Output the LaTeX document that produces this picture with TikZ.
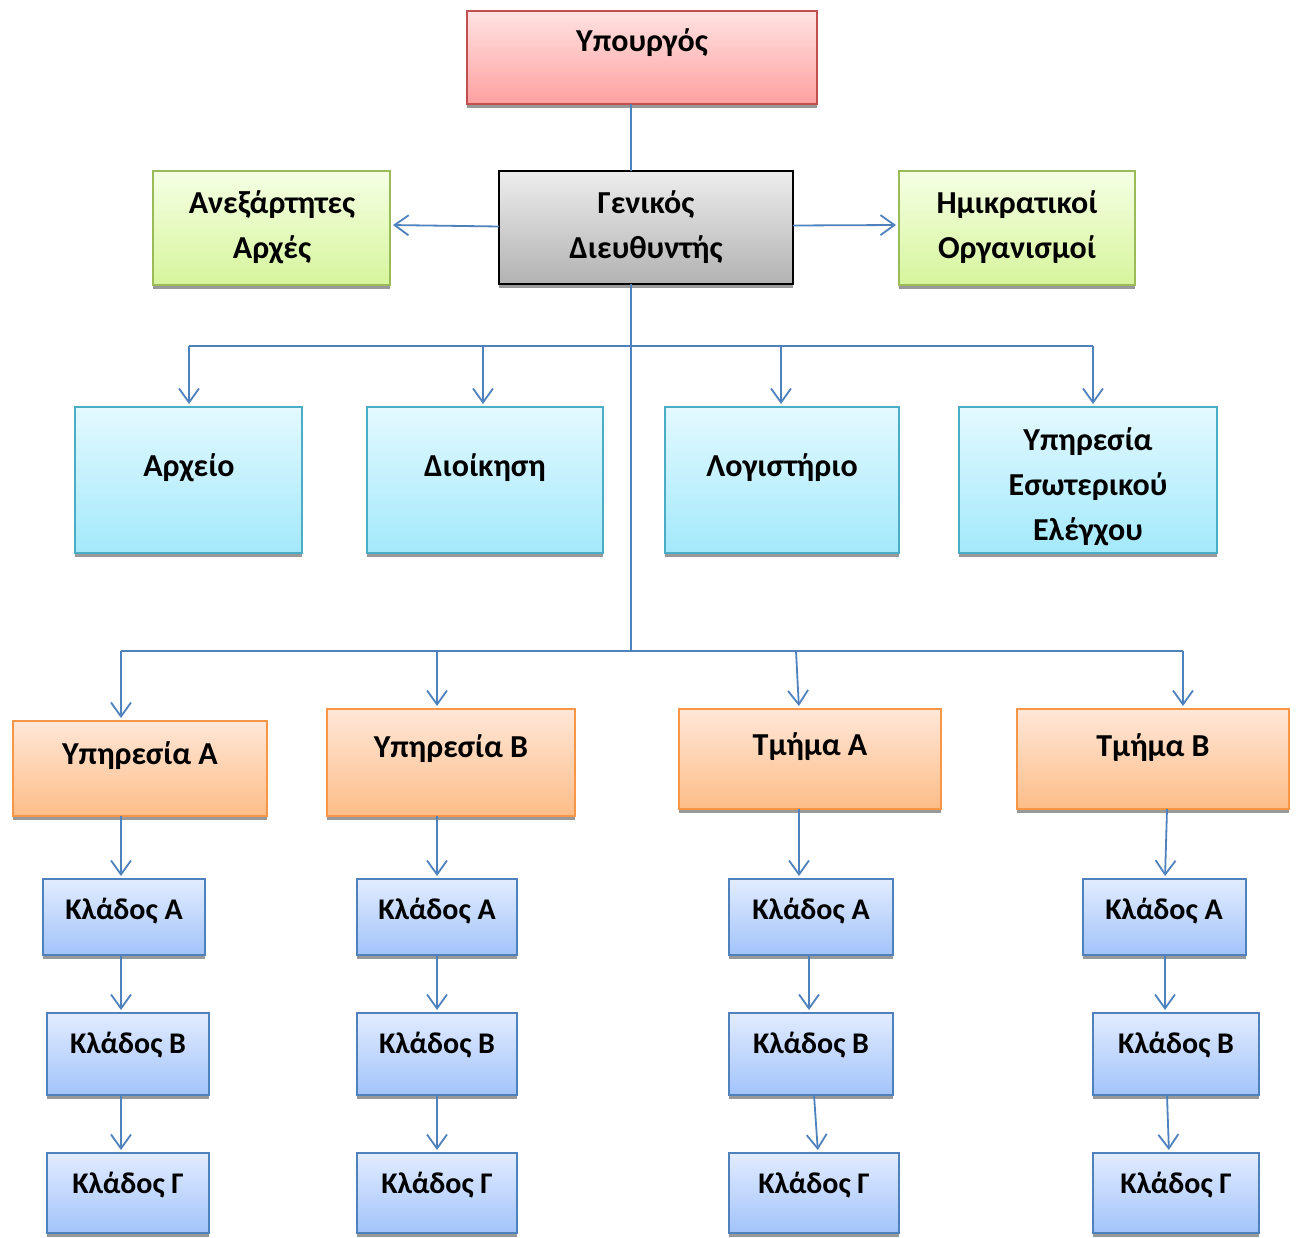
\documentclass[tikz,border=0pt]{standalone}
\usepackage{fontspec}
\setmainfont{Carlito}
\usetikzlibrary{arrows.meta,calc}
\definecolor{lnc}{HTML}{4F81BD}
\definecolor{redB}{HTML}{C0504D}\definecolor{redT}{HTML}{FFE2E2}\definecolor{redM}{HTML}{FFA0A0}
\definecolor{grB}{HTML}{000000}\definecolor{grT}{HTML}{EDEDED}\definecolor{grM}{HTML}{B2B2B2}
\definecolor{gnB}{HTML}{9BBB59}\definecolor{gnT}{HTML}{F5FFE4}\definecolor{gnM}{HTML}{D6F59C}
\definecolor{cyB}{HTML}{4BACC6}\definecolor{cyT}{HTML}{E3F9FF}\definecolor{cyM}{HTML}{A3E9FB}
\definecolor{orB}{HTML}{F79646}\definecolor{orT}{HTML}{FFE7D8}\definecolor{orM}{HTML}{FDBD88}
\definecolor{blB}{HTML}{4F81BD}\definecolor{blT}{HTML}{E2ECFF}\definecolor{blM}{HTML}{A2C3FA}
\tikzset{
  x=1pt,y=-1pt,
  box/.style={draw, line width=1.8pt, inner sep=0pt, outer sep=0pt},
  redbox/.style={box, draw=redB, top color=redT, bottom color=redM},
  graybox/.style={box, draw=grB, top color=grT, bottom color=grM},
  greenbox/.style={box, draw=gnB, top color=gnT, bottom color=gnM},
  cyanbox/.style={box, draw=cyB, top color=cyT, bottom color=cyM},
  orangebox/.style={box, draw=orB, top color=orT, bottom color=orM},
  bluebox/.style={box, draw=blB, top color=blT, bottom color=blM},
  shd/.style={fill=black!40},
  conn/.style={draw=lnc, line width=1.8pt},
  arr/.style={conn, -{Straight Barb[length=14pt,width=20pt,line width=1.8pt]}, shorten >=3pt},
  lbl/.style={anchor=base, inner sep=0pt, font=\fontsize{32}{45}\selectfont\bfseries},
  klbl/.style={lbl, font=\fontsize{30}{45}\selectfont\bfseries},
}
\newcommand\bx[6]{%
  \fill[shd] (#3,#6+1) rectangle (#5,#6+4);
  \node[#1, minimum width={#5-#3}, minimum height={#6-#4}] (#2) at ({(#3+#5)/2},{(#4+#6)/2}) {};
}
\newcommand\tx[5][lbl]{\node[#1] (#2) at (#3,#4) {\begin{tabular}[t]{@{}c@{}}#5\end{tabular}};}
\begin{document}
\begin{tikzpicture}
\useasboundingbox (0,0) rectangle (1299,1238);
% boxes
\bx{redbox}{upo}{467}{11}{817}{104}
\bx{graybox}{gd}{499}{171}{793}{284}
\bx{greenbox}{anex}{153}{171}{390}{285}
\bx{greenbox}{imik}{899}{171}{1135}{285}
\bx{cyanbox}{arx}{75}{407}{302}{553}
\bx{cyanbox}{dioik}{367}{407}{603}{553}
\bx{cyanbox}{logist}{665}{407}{899}{553}
\bx{cyanbox}{ype}{959}{407}{1217}{553}
\bx{orangebox}{ypa}{13}{721}{267}{816}
\bx{orangebox}{ypb}{327}{709}{575}{816}
\bx{orangebox}{tma}{679}{709}{941}{809}
\bx{orangebox}{tmb}{1017}{709}{1289}{809}
\bx{bluebox}{k1a}{43}{879}{205}{955}
\bx{bluebox}{k1b}{47}{1013}{209}{1095}
\bx{bluebox}{k1c}{47}{1153}{209}{1233}
\bx{bluebox}{k2a}{357}{879}{517}{955}
\bx{bluebox}{k2b}{357}{1013}{517}{1095}
\bx{bluebox}{k2c}{357}{1153}{517}{1233}
\bx{bluebox}{k3a}{729}{879}{893}{955}
\bx{bluebox}{k3b}{729}{1013}{893}{1095}
\bx{bluebox}{k3c}{729}{1153}{899}{1233}
\bx{bluebox}{k4a}{1083}{879}{1246}{955}
\bx{bluebox}{k4b}{1093}{1013}{1259}{1095}
\bx{bluebox}{k4c}{1093}{1153}{1259}{1233}
% texts
\tx{upo-t}{642}{52}{Υπουργός}
\tx{gd-t}{646}{214}{Γενικός\\Διευθυντής}
\tx{anex-t}{272}{214}{Ανεξάρτητες\\Αρχές}
\tx{imik-t}{1017}{214}{Ημικρατικοί\\Οργανισμοί}
\tx{arx-t}{189}{477}{Αρχείο}
\tx{dioik-t}{485}{477}{Διοίκηση}
\tx{logist-t}{782}{477}{Λογιστήριο}
\tx{ype-t}{1088}{450}{Υπηρεσία\\Εσωτερικού\\Ελέγχου}
\tx{ypa-t}{140}{764}{Υπηρεσία Α}
\tx{ypb-t}{451}{757}{Υπηρεσία Β}
\tx{tma-t}{810}{755}{Τμήμα Α}
\tx{tmb-t}{1153}{756}{Τμήμα Β}
\tx[klbl]{k1a-t}{124}{919}{Κλάδος Α}
\tx[klbl]{k1b-t}{128}{1053}{Κλάδος Β}
\tx[klbl]{k1c-t}{128}{1193}{Κλάδος Γ}
\tx[klbl]{k2a-t}{437}{919}{Κλάδος Α}
\tx[klbl]{k2b-t}{437}{1053}{Κλάδος Β}
\tx[klbl]{k2c-t}{437}{1193}{Κλάδος Γ}
\tx[klbl]{k3a-t}{811}{919}{Κλάδος Α}
\tx[klbl]{k3b-t}{811}{1053}{Κλάδος Β}
\tx[klbl]{k3c-t}{814}{1193}{Κλάδος Γ}
\tx[klbl]{k4a-t}{1164}{919}{Κλάδος Α}
\tx[klbl]{k4b-t}{1176}{1053}{Κλάδος Β}
\tx[klbl]{k4c-t}{1176}{1193}{Κλάδος Γ}
% junction coordinates
\coordinate (t1) at (631,346);
\coordinate (t2) at (631,651);
\coordinate (h1l) at (189,346);
\coordinate (h1b) at (483,346);
\coordinate (h1c) at (781,346);
\coordinate (h1r) at (1093,346);
\coordinate (h2l) at (121,651);
\coordinate (h2b) at (437,651);
\coordinate (h2c) at (796,651);
\coordinate (h2r) at (1183,651);
% connectors
\draw[conn] (upo.south -| t1) -- (gd.north -| t1);
\draw[arr] (gd.west) ++(0,-1) -- ($(anex.east)+(0,-3)$);
\draw[arr] (gd.east) ++(0,-2) -- ($(imik.west)+(0,-3)$);
\draw[conn] (gd.south -| t1) -- (t2);
\draw[conn] (h1l) -- (h1r);
\draw[conn] (h2l) -- (h2r);
\draw[arr] (h1l) -- (arx.north -| h1l);
\draw[arr] (h1b) -- (dioik.north -| h1b);
\draw[arr] (h1c) -- (logist.north -| h1c);
\draw[arr] (h1r) -- (ype.north -| h1r);
\draw[arr] (h2l) -- (ypa.north -| h2l);
\draw[arr] (h2b) -- (ypb.north -| h2b);
\draw[arr] (h2c) -- (tma.north -| 799,0);
\draw[arr] (h2r) -- (tmb.north -| h2r);
% column 1
\draw[arr] (ypa.south -| h2l) -- (k1a.north -| h2l);
\draw[arr] (k1a.south -| h2l) -- (k1b.north -| h2l);
\draw[arr] (k1b.south -| h2l) -- (k1c.north -| h2l);
% column 2
\draw[arr] (ypb.south -| h2b) -- (k2a.north -| h2b);
\draw[arr] (k2a.south -| h2b) -- (k2b.north -| h2b);
\draw[arr] (k2b.south -| h2b) -- (k2c.north -| h2b);
% column 3
\draw[arr] (tma.south -| 799,0) -- (k3a.north -| 799,0);
\draw[arr] (k3a.south -| 809,0) -- (k3b.north -| 809,0);
\draw[arr] (k3b.south -| 814,0) -- (k3c.north -| 818,0);
% column 4
\draw[arr] (tmb.south -| 1167,0) -- (k4a.north -| 1165,0);
\draw[arr] (k4a.south -| 1165,0) -- (k4b.north -| 1165,0);
\draw[arr] (k4b.south -| 1167,0) -- (k4c.north -| 1169,0);
\end{tikzpicture}
\end{document}
